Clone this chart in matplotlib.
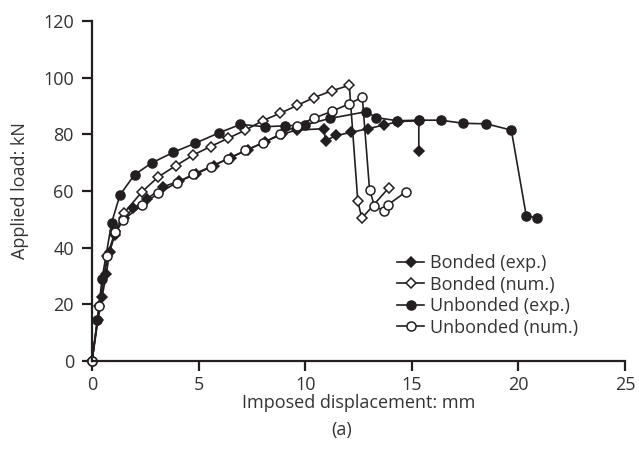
import matplotlib
matplotlib.use("Agg")
import matplotlib.pyplot as plt

plt.rcParams['font.family'] = ['Open Sans', 'DejaVu Sans']

# Bonded (exp.) - filled diamonds
bonded_exp_x = [0, 0.28, 0.47, 0.67, 0.83, 1.06, 1.5, 1.94, 2.56, 3.34, 4.1, 4.9, 5.7,
                6.5, 7.3, 8.1, 8.9, 9.6, 10.87, 10.96, 11.46, 12.16, 12.95, 13.7, 14.35,
                15.33, 15.33]
bonded_exp_y = [0, 14.5, 22.5, 30.7, 38.5, 44.5, 50.5, 53.9, 57.1, 61.5, 63.5, 66, 69,
                71.8, 74.6, 77.3, 80, 81.5, 82, 77.8, 79.6, 80.7, 82, 83.3, 84.5,
                84.8, 74.2]

# Bonded (num.) - open diamonds
bonded_num_x = [0, 0.35, 0.72, 1.1, 1.51, 2.33, 3.11, 3.93, 4.75, 5.56, 6.38, 7.2, 8.0,
                8.81, 9.62, 10.42, 11.26, 12.07, 12.47, 12.66, 13.93]
bonded_num_y = [0, 19.5, 37, 46, 52.3, 59.6, 65, 68.9, 72.7, 75.7, 78.6, 81.5, 84.8,
                87.4, 90.2, 93, 95.4, 97.3, 56.3, 50.4, 61.2]

# Unbonded (exp.) - filled circles
unbonded_exp_x = [0, 0.25, 0.47, 0.92, 1.31, 2.0, 2.8, 3.8, 4.82, 5.98, 6.96, 8.1, 9.05,
                  9.98, 11.15, 12.87, 13.33, 14.33, 15.33, 16.35, 17.42, 18.5, 19.67,
                  20.37, 20.86]
unbonded_exp_y = [0, 14.5, 29, 48.8, 58.6, 65.8, 69.9, 73.6, 76.8, 80.6, 83.5, 82.7, 83,
                  83.3, 85.6, 88, 85.9, 84.8, 85, 85, 83.9, 83.7, 81.5, 51.3, 50.5]

# Unbonded (num.) - open circles
unbonded_num_x = [0, 0.34, 0.72, 1.1, 1.47, 2.33, 3.11, 3.97, 4.75, 5.57, 6.38, 7.2, 8.02,
                  8.81, 9.6, 10.4, 11.25, 12.06, 12.68, 13.02, 13.25, 13.69, 13.88, 14.74]
unbonded_num_y = [0, 19.4, 37, 45.5, 49.8, 55, 59.2, 62.9, 65.9, 68.6, 71.4, 74.3, 77,
                  80, 83, 85.7, 88.1, 90.8, 93.1, 60.4, 54.7, 53.1, 55.1, 59.8]

ink = '#231f20'
text_col = '#333333'
fs = 13

fig = plt.figure(figsize=(6.39, 4.67), dpi=100)
ax = fig.add_axes([0.144, 0.227, 0.834, 0.728])

line_kw = dict(color=ink, lw=1.2, markeredgewidth=1.1, clip_on=False)
ax.plot(bonded_exp_x, bonded_exp_y, marker='D', markersize=5.5, mfc=ink, mec=ink,
        label='Bonded (exp.)', **line_kw)
ax.plot(bonded_num_x, bonded_num_y, marker='D', markersize=5.5, mfc='white', mec=ink,
        label='Bonded (num.)', **line_kw)
ax.plot(unbonded_exp_x, unbonded_exp_y, marker='o', markersize=6.5, mfc=ink, mec=ink,
        label='Unbonded (exp.)', **line_kw)
ax.plot(unbonded_num_x, unbonded_num_y, marker='o', markersize=6.5, mfc='white', mec=ink,
        label='Unbonded (num.)', **line_kw)

ax.set_xlim(0, 25)
ax.set_ylim(0, 120)
ax.set_xticks([0, 5, 10, 15, 20, 25])
ax.set_yticks([0, 20, 40, 60, 80, 100, 120])

for s in ['top', 'right']:
    ax.spines[s].set_visible(False)
for s in ['left', 'bottom']:
    ax.spines[s].set_linewidth(1.6)
    ax.spines[s].set_color(ink)
ax.tick_params(direction='out', length=7, width=1.6, color=ink,
               labelsize=fs, labelcolor=text_col, pad=6)
ax.tick_params(axis='x', pad=4)

ax.set_xlabel('Imposed displacement: mm', fontsize=fs, color=text_col, labelpad=0)
ax.set_ylabel('Applied load: kN', fontsize=fs, color=text_col, labelpad=10)
fig.text(0.535, 0.079, '(a)', ha='center', va='center', fontsize=fs, color=text_col)

leg = ax.legend(loc='lower right', bbox_to_anchor=(0.925, 0.05), frameon=False,
                fontsize=fs, handlelength=1.5, handletextpad=0.3, labelspacing=0.2,
                borderaxespad=0)
for t in leg.get_texts():
    t.set_color(text_col)

fig.savefig('out.png', dpi=100)
